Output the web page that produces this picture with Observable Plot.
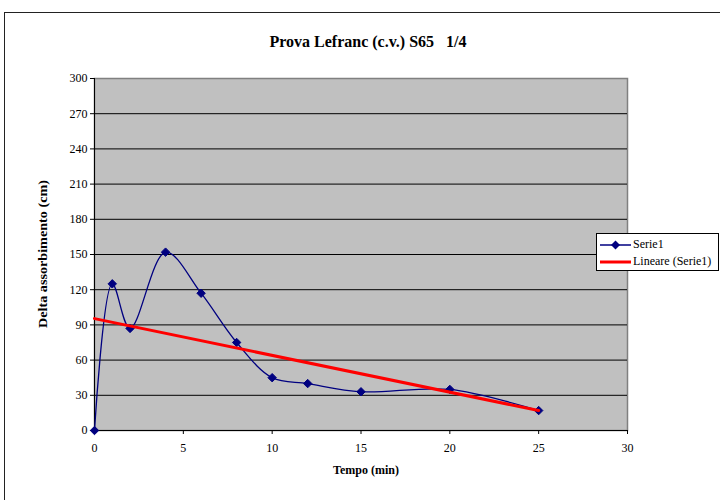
<!DOCTYPE html>
<html>
<head>
<meta charset="utf-8">
<script src="https://cdn.jsdelivr.net/npm/d3@7"></script>
<script src="https://cdn.jsdelivr.net/npm/@observablehq/plot@0.6"></script>
<style>
  html, body { margin: 0; padding: 0; background: #fff; }
  #wrap { position: relative; width: 720px; height: 500px; overflow: hidden; font-family: "Liberation Serif", "Times New Roman", Times, serif; }
  #frame { position: absolute; left: 4px; top: 12px; width: 800px; height: 600px; border: 1.5px solid #222; box-sizing: border-box; }
  #chart { position: absolute; left: 0; top: 0; }
  .t { position: absolute; white-space: nowrap; color: #000; }
  #title { left: 368px; top: 33px; transform: translateX(-50%); font-size: 16px; font-weight: bold; }
  #xlab { left: 366px; top: 463px; transform: translateX(-50%); font-size: 12px; font-weight: bold; }
  #ylab { left: 43px; top: 254px; transform: translate(-50%, -50%) rotate(-90deg) scale(1.18, 1); font-size: 12px; font-weight: bold; }
  #legend { position: absolute; left: 596px; top: 233px; width: 123px; height: 38px; border: 1px solid #000; background: #fff; box-sizing: border-box; font-size: 12px; }
  .li { position: absolute; left: 3px; display: flex; align-items: center; }
  .li span { margin-left: 2px; }
</style>
</head>
<body>
<div id="wrap">
  <div id="frame"></div>
  <div id="chart"></div>
  <div class="t" id="title">Prova Lefranc (c.v.) S65&nbsp;&nbsp;&nbsp;1/4</div>
  <div class="t" id="xlab">Tempo (min)</div>
  <div class="t" id="ylab">Delta assorbimento (cm)</div>
  <div id="legend">
    <div class="li" style="top:3px"><svg width="31" height="12"><line x1="0" y1="6" x2="31" y2="6" stroke="#000080" stroke-width="1.5"/><path d="M15.5,1.5 L20,6 L15.5,10.5 L11,6 Z" fill="#000080"/></svg><span>Serie1</span></div>
    <div class="li" style="top:20px"><svg width="31" height="12"><line x1="0" y1="6" x2="31" y2="6" stroke="#ff0000" stroke-width="3"/></svg><span>Lineare (Serie1)</span></div>
  </div>
</div>
<script>
const tempo = [0, 1, 2, 4, 6, 8, 10, 12, 15, 20, 25];
const delta = [0, 125, 87, 152, 117, 75, 45, 40, 33, 35, 17];
const xTicks = [0, 5, 10, 15, 20, 25, 30];
const yTicks = [0, 30, 60, 90, 120, 150, 180, 210, 240, 270, 300];

const data = tempo.map((t, i) => ({t, d: delta[i]}));

const chart = Plot.plot({
  width: 720,
  height: 500,
  marginLeft: 94,
  marginRight: 93,
  marginTop: 78,
  marginBottom: 70,
  style: {fontFamily: "'Liberation Serif', 'Times New Roman', Times, serif", fontSize: "12px", background: "transparent", color: "#000"},
  x: {domain: [0, 30]},
  y: {domain: [0, 300]},
  marks: [
    Plot.frame({fill: "#c0c0c0", stroke: "#808080", strokeWidth: 1.5}),
    Plot.ruleY(yTicks.filter(v => v > 0 && v < 300), {stroke: "#000", strokeWidth: 1}),
    Plot.axisY({ticks: yTicks, tickSize: 4, tickPadding: 3, label: null, fontSize: 12}),
    Plot.axisX({ticks: xTicks, tickSize: 4, tickPadding: 9, label: null, fontSize: 12}),
    Plot.ruleX([0], {stroke: "#000", strokeWidth: 1}),
    Plot.ruleY([0], {stroke: "#000", strokeWidth: 1}),
    Plot.line(data, {x: "t", y: "d", curve: "catmull-rom", stroke: "#000080", strokeWidth: 1.3}),
    Plot.dot(data, {x: "t", y: "d", symbol: "diamond2", fill: "#000080", stroke: "#000080", strokeWidth: 1, r: 3.8}),
    Plot.linearRegressionY(data, {x: "t", y: "d", stroke: "#ff0000", strokeWidth: 3, ci: 0})
  ]
});
document.getElementById("chart").appendChild(chart);
</script>
</body>
</html>
